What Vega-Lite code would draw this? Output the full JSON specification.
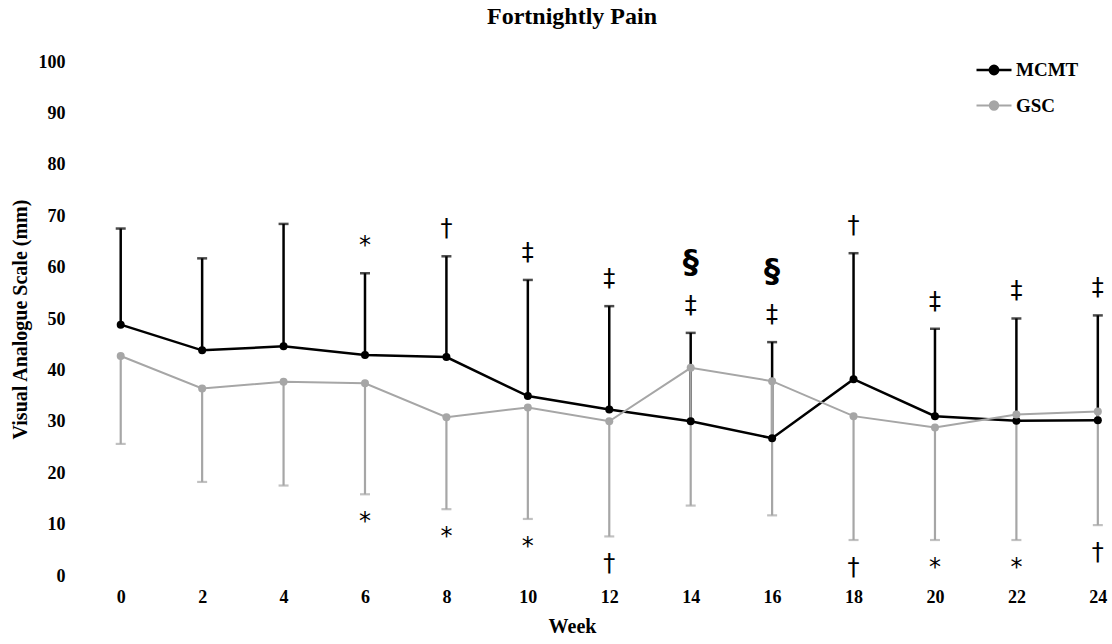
{
  "$schema": "https://vega.github.io/schema/vega-lite/v6.json",
  "width": 1028,
  "height": 514,
  "autosize": {"type": "none"},
  "padding": {"left": 80, "top": 62, "right": 4, "bottom": 68},
  "background": "white",
  "config": {
    "view": {"stroke": null},
    "font": "Liberation Serif",
    "axis": {"grid": false, "domain": false, "ticks": false, "labelFont": "Liberation Serif", "labelFontWeight": "bold", "labelFontSize": 18, "labelColor": "#000", "titleFont": "Liberation Serif", "titleFontWeight": "bold", "titleFontSize": 20, "titleColor": "#000"}
  },
  "title": {"text": "Fortnightly Pain", "font": "Liberation Serif", "fontSize": 24, "fontWeight": "bold", "color": "#000", "anchor": "middle", "dx": -22, "offset": 22},
  "data": {
    "values": [
      {"week": 0, "group": "MCMT", "mean": 48.9, "bar_end": 67.6, "sig": "", "sig2": ""},
      {"week": 2, "group": "MCMT", "mean": 43.9, "bar_end": 61.8, "sig": "", "sig2": ""},
      {"week": 4, "group": "MCMT", "mean": 44.7, "bar_end": 68.5, "sig": "", "sig2": ""},
      {"week": 6, "group": "MCMT", "mean": 43.0, "bar_end": 58.9, "sig": "*", "sig2": ""},
      {"week": 8, "group": "MCMT", "mean": 42.6, "bar_end": 62.2, "sig": "†", "sig2": ""},
      {"week": 10, "group": "MCMT", "mean": 35.0, "bar_end": 57.6, "sig": "‡", "sig2": ""},
      {"week": 12, "group": "MCMT", "mean": 32.4, "bar_end": 52.5, "sig": "‡", "sig2": ""},
      {"week": 14, "group": "MCMT", "mean": 30.1, "bar_end": 47.3, "sig": "‡", "sig2": "§"},
      {"week": 16, "group": "MCMT", "mean": 26.8, "bar_end": 45.5, "sig": "‡", "sig2": "§"},
      {"week": 18, "group": "MCMT", "mean": 38.3, "bar_end": 62.8, "sig": "†", "sig2": ""},
      {"week": 20, "group": "MCMT", "mean": 31.1, "bar_end": 48.1, "sig": "‡", "sig2": ""},
      {"week": 22, "group": "MCMT", "mean": 30.2, "bar_end": 50.1, "sig": "‡", "sig2": ""},
      {"week": 24, "group": "MCMT", "mean": 30.3, "bar_end": 50.7, "sig": "‡", "sig2": ""},
      {"week": 0, "group": "GSC", "mean": 42.8, "bar_end": 25.7, "sig": "", "sig2": ""},
      {"week": 2, "group": "GSC", "mean": 36.5, "bar_end": 18.3, "sig": "", "sig2": ""},
      {"week": 4, "group": "GSC", "mean": 37.8, "bar_end": 17.6, "sig": "", "sig2": ""},
      {"week": 6, "group": "GSC", "mean": 37.5, "bar_end": 15.9, "sig": "*", "sig2": ""},
      {"week": 8, "group": "GSC", "mean": 30.9, "bar_end": 13.0, "sig": "*", "sig2": ""},
      {"week": 10, "group": "GSC", "mean": 32.8, "bar_end": 11.1, "sig": "*", "sig2": ""},
      {"week": 12, "group": "GSC", "mean": 30.1, "bar_end": 7.7, "sig": "†", "sig2": ""},
      {"week": 14, "group": "GSC", "mean": 40.5, "bar_end": 13.7, "sig": "", "sig2": ""},
      {"week": 16, "group": "GSC", "mean": 37.9, "bar_end": 11.8, "sig": "", "sig2": ""},
      {"week": 18, "group": "GSC", "mean": 31.1, "bar_end": 7.0, "sig": "†", "sig2": ""},
      {"week": 20, "group": "GSC", "mean": 28.9, "bar_end": 7.0, "sig": "*", "sig2": ""},
      {"week": 22, "group": "GSC", "mean": 31.4, "bar_end": 7.0, "sig": "*", "sig2": ""},
      {"week": 24, "group": "GSC", "mean": 32.0, "bar_end": 9.9, "sig": "†", "sig2": ""}
    ]
  },
  "encoding": {
    "x": {"field": "week", "type": "quantitative", "title": "Week",
      "scale": {"domain": [-1, 24.25], "nice": false, "zero": false},
      "axis": {"values": [0, 2, 4, 6, 8, 10, 12, 14, 16, 18, 20, 22, 24], "labelPadding": 12, "titlePadding": 10, "titleX": 492}
    }
  },
  "layer": [
    {
      "transform": [{"filter": "datum.group === 'MCMT'"}],
      "mark": {"type": "rule", "strokeWidth": 2.5},
      "encoding": {
        "y": {"field": "mean", "type": "quantitative"},
        "y2": {"field": "bar_end"},
        "color": {"field": "group", "type": "nominal"}
      }
    },
    {
      "transform": [{"filter": "datum.group === 'MCMT'"}],
      "mark": {"type": "tick", "orient": "horizontal", "size": 10, "thickness": 2.5},
      "encoding": {
        "y": {"field": "bar_end", "type": "quantitative"},
        "color": {"field": "group", "type": "nominal"}
      }
    },
    {
      "transform": [{"filter": "datum.group === 'GSC'"}],
      "mark": {"type": "rule", "strokeWidth": 2.2},
      "encoding": {
        "y": {"field": "mean", "type": "quantitative"},
        "y2": {"field": "bar_end"},
        "color": {"field": "group", "type": "nominal"}
      }
    },
    {
      "transform": [{"filter": "datum.group === 'GSC'"}],
      "mark": {"type": "tick", "orient": "horizontal", "size": 10, "thickness": 2.2},
      "encoding": {
        "y": {"field": "bar_end", "type": "quantitative"},
        "color": {"field": "group", "type": "nominal"}
      }
    },
    {
      "mark": {"type": "line", "point": {"filled": true, "size": 64}},
      "encoding": {
        "y": {"field": "mean", "type": "quantitative", "title": "Visual Analogue Scale (mm)",
          "scale": {"domain": [0, 100], "nice": false},
          "axis": {"values": [0, 10, 20, 30, 40, 50, 60, 70, 80, 90, 100], "labelPadding": 15, "titlePadding": 8}
        },
        "color": {"field": "group", "type": "nominal",
          "scale": {"domain": ["MCMT", "GSC"], "range": ["#000000", "#a6a6a6"]},
          "legend": {"title": null, "orient": "none", "legendX": 895, "legendY": -11,
            "symbolType": "M-1,0H1M-0.24,0A0.24,0.24 0 1,0 0.24,0A0.24,0.24 0 1,0 -0.24,0Z",
            "symbolSize": 1225, "symbolStrokeWidth": 2.2, "rowPadding": 7, "labelOffset": 3,
            "labelFont": "Liberation Serif", "labelFontWeight": "bold", "labelFontSize": 19, "labelColor": "#000",
            "encode": {"symbols": {"update": {"fill": {"scale": "color", "field": "value"}, "stroke": {"scale": "color", "field": "value"}}}}
          }
        },
        "strokeWidth": {"field": "group", "type": "nominal", "scale": {"domain": ["MCMT", "GSC"], "range": [2.5, 2]}, "legend": null},
        "order": {"field": "week", "type": "quantitative"}
      }
    },
    {
      "transform": [{"filter": "datum.group === 'MCMT'"}],
      "mark": {"type": "text", "dy": -27, "fontSize": 24, "font": "DejaVu Sans", "color": "#000"},
      "encoding": {"y": {"field": "bar_end", "type": "quantitative"}, "text": {"field": "sig"}}
    },
    {
      "transform": [{"filter": "datum.group === 'MCMT'"}],
      "mark": {"type": "text", "dy": -71, "fontSize": 32, "fontWeight": "bold", "font": "DejaVu Sans", "color": "#000"},
      "encoding": {"y": {"field": "bar_end", "type": "quantitative"}, "text": {"field": "sig2"}}
    },
    {
      "transform": [{"filter": "datum.group === 'GSC'"}],
      "mark": {"type": "text", "dy": 28, "fontSize": 24, "font": "DejaVu Sans", "color": "#000"},
      "encoding": {"y": {"field": "bar_end", "type": "quantitative"}, "text": {"field": "sig"}}
    }
  ]
}
